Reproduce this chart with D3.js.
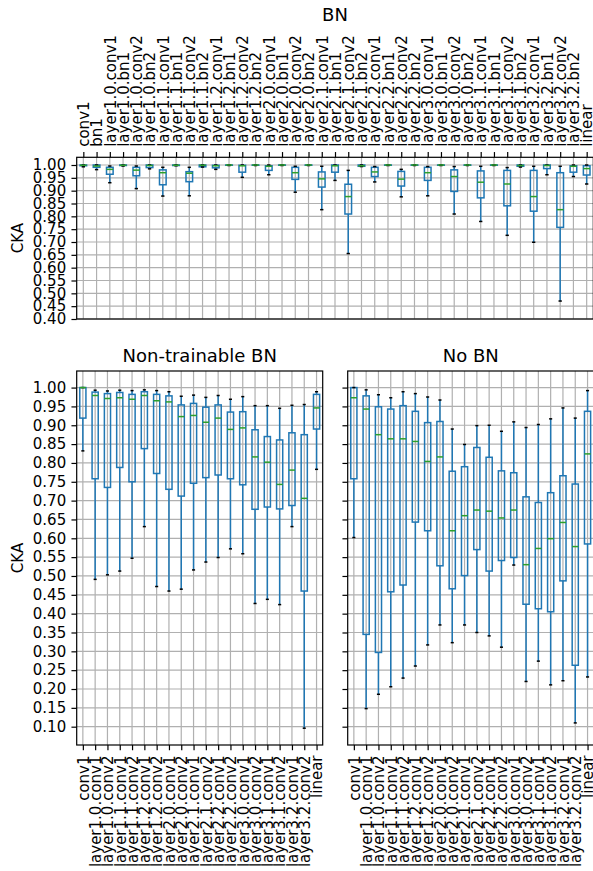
<!DOCTYPE html>
<html>
<head>
<meta charset="utf-8">
<script src="https://cdn.jsdelivr.net/npm/d3@7"></script>
<style>
  body { margin: 0; background: #fff; }
  svg text { font-family: "DejaVu Sans", sans-serif; fill: #000; }
</style>
</head>
<body>
<svg id="chart" width="593" height="871"></svg>
<script>
"use strict";
// layer names
const blocks = ['layer1.0', 'layer1.1', 'layer1.2', 'layer2.0', 'layer2.1', 'layer2.2', 'layer3.0', 'layer3.1', 'layer3.2'];
const bnLayers = ['conv1', 'bn1',
  'layer1.0.conv1', 'layer1.0.bn1', 'layer1.0.conv2', 'layer1.0.bn2',
  'layer1.1.conv1', 'layer1.1.bn1', 'layer1.1.conv2', 'layer1.1.bn2',
  'layer1.2.conv1', 'layer1.2.bn1', 'layer1.2.conv2', 'layer1.2.bn2',
  'layer2.0.conv1', 'layer2.0.bn1', 'layer2.0.conv2', 'layer2.0.bn2',
  'layer2.1.conv1', 'layer2.1.bn1', 'layer2.1.conv2', 'layer2.1.bn2',
  'layer2.2.conv1', 'layer2.2.bn1', 'layer2.2.conv2', 'layer2.2.bn2',
  'layer3.0.conv1', 'layer3.0.bn1', 'layer3.0.conv2', 'layer3.0.bn2',
  'layer3.1.conv1', 'layer3.1.bn1', 'layer3.1.conv2', 'layer3.1.bn2',
  'layer3.2.conv1', 'layer3.2.bn1', 'layer3.2.conv2', 'layer3.2.bn2', 'linear'];
const convLayers = ['conv1',
  'layer1.0.conv1', 'layer1.0.conv2', 'layer1.1.conv1', 'layer1.1.conv2', 'layer1.2.conv1', 'layer1.2.conv2',
  'layer2.0.conv1', 'layer2.0.conv2', 'layer2.1.conv1', 'layer2.1.conv2', 'layer2.2.conv1', 'layer2.2.conv2',
  'layer3.0.conv1', 'layer3.0.conv2', 'layer3.1.conv1', 'layer3.1.conv2', 'layer3.2.conv1', 'layer3.2.conv2', 'linear'];

// BN panel
const bnMin = [0.993, 0.982, 0.931, 0.996, 0.908, 0.985, 0.879, 0.997, 0.880, 0.992, 0.983, 0.998, 0.952, 0.998, 0.962, 0.998, 0.894, 0.998, 0.826, 0.940,
  0.655, 0.994, 0.934, 0.998, 0.876, 0.998, 0.880, 0.998, 0.809, 0.998, 0.780, 0.998, 0.726, 0.992, 0.699, 0.962, 0.470, 0.955, 0.926];
const bnQ1 = [0.997, 0.991, 0.964, 0.998, 0.958, 0.990, 0.923, 0.998, 0.935, 0.993, 0.989, 0.999, 0.972, 0.999, 0.979, 0.999, 0.944, 0.999, 0.914, 0.972,
  0.809, 0.995, 0.955, 0.999, 0.918, 0.999, 0.940, 0.999, 0.897, 0.999, 0.872, 0.999, 0.841, 0.995, 0.820, 0.986, 0.757, 0.972, 0.961];
const bnMed = [0.999, 0.996, 0.983, 0.999, 0.980, 0.998, 0.970, 0.999, 0.968, 0.999, 0.997, 1.000, 0.997, 1.000, 0.995, 1.000, 0.970, 1.000, 0.946, 0.997,
  0.877, 0.997, 0.973, 1.000, 0.945, 1.000, 0.970, 1.000, 0.955, 1.000, 0.933, 1.000, 0.926, 0.998, 0.877, 0.998, 0.826, 0.995, 0.986];
const bnQ3 = [1.000, 1.000, 0.991, 1.000, 0.991, 1.000, 0.981, 1.000, 0.974, 1.000, 0.999, 1.000, 0.999, 1.000, 0.997, 1.000, 0.991, 1.000, 0.973, 1.000,
  0.925, 1.000, 0.991, 1.000, 0.975, 1.000, 0.991, 1.000, 0.981, 1.000, 0.977, 1.000, 0.979, 1.000, 0.979, 1.000, 0.970, 0.997, 0.997];
const bnMax = [1.000, 1.000, 0.996, 1.000, 0.996, 1.000, 0.991, 1.000, 0.991, 1.000, 1.000, 1.000, 1.000, 1.000, 1.000, 1.000, 0.995, 1.000, 0.995, 1.000,
  0.979, 1.000, 0.994, 1.000, 0.983, 1.000, 0.994, 1.000, 0.994, 1.000, 0.995, 1.000, 0.990, 1.000, 0.995, 1.000, 0.995, 1.000, 1.000];

// Non-trainable BN panel
const ntMin = [0.832, 0.491, 0.503, 0.513, 0.547, 0.631, 0.472, 0.460, 0.465, 0.516, 0.537, 0.549, 0.572, 0.559, 0.427, 0.438, 0.424, 0.631, 0.096, 0.783];
const ntQ1 = [0.919, 0.758, 0.735, 0.788, 0.750, 0.838, 0.772, 0.730, 0.712, 0.746, 0.761, 0.768, 0.758, 0.742, 0.677, 0.683, 0.678, 0.687, 0.460, 0.890];
const ntMed = [1.000, 0.979, 0.971, 0.973, 0.969, 0.979, 0.965, 0.962, 0.923, 0.926, 0.908, 0.919, 0.889, 0.893, 0.816, 0.802, 0.743, 0.781, 0.706, 0.946];
const ntQ3 = [1.000, 0.988, 0.984, 0.987, 0.982, 0.989, 0.982, 0.978, 0.954, 0.958, 0.948, 0.954, 0.935, 0.936, 0.888, 0.870, 0.861, 0.880, 0.875, 0.982];
const ntMax = [1.000, 0.993, 0.991, 0.993, 0.992, 0.994, 0.992, 0.989, 0.977, 0.980, 0.974, 0.979, 0.969, 0.976, 0.952, 0.952, 0.945, 0.953, 0.955, 0.989];

// No BN panel
const noMin = [0.602, 0.148, 0.186, 0.206, 0.229, 0.261, 0.317, 0.370, 0.323, 0.370, 0.350, 0.341, 0.311, 0.529, 0.220, 0.274, 0.211, 0.222, 0.110, 0.232];
const noQ1 = [0.758, 0.345, 0.297, 0.458, 0.476, 0.643, 0.620, 0.527, 0.466, 0.501, 0.570, 0.513, 0.541, 0.549, 0.425, 0.413, 0.405, 0.487, 0.263, 0.585];
const noMed = [0.973, 0.943, 0.875, 0.864, 0.864, 0.857, 0.804, 0.816, 0.620, 0.660, 0.675, 0.672, 0.654, 0.675, 0.530, 0.573, 0.599, 0.642, 0.578, 0.824];
const noQ3 = [1.000, 0.978, 0.949, 0.943, 0.952, 0.937, 0.907, 0.910, 0.778, 0.790, 0.841, 0.815, 0.779, 0.774, 0.710, 0.695, 0.721, 0.766, 0.744, 0.937];
const noMax = [1.000, 0.994, 0.981, 0.973, 0.989, 0.984, 0.975, 0.967, 0.890, 0.849, 0.899, 0.900, 0.884, 0.909, 0.894, 0.902, 0.917, 0.946, 0.919, 0.992];

const topTicks = d3.range(0.40, 1.001, 0.05);
const bottomTicks = d3.range(0.10, 1.001, 0.05);

const svg = d3.select('#chart');
const FS = 15;

function panel(opts) {
  const { names, mins, q1s, meds, q3s, maxs, x0, x1, y0, y1, domain, ticks, labelSide, showYLabels, title } = opts;
  const g = svg.append('g');
  const x = d3.scalePoint().domain(names).range([x0, x1]).padding(0.5);
  const y = d3.scaleLinear().domain(domain).range([y1, y0]);
  const step = x.step();

  // grid
  g.append('g').selectAll('line.gx').data(names).enter().append('line')
    .attr('x1', d => x(d)).attr('x2', d => x(d)).attr('y1', y0).attr('y2', y1)
    .attr('stroke', '#b0b0b0').attr('stroke-width', 1.2);
  g.append('g').selectAll('line.gy').data(ticks).enter().append('line')
    .attr('x1', x0).attr('x2', x1).attr('y1', d => y(d)).attr('y2', d => y(d))
    .attr('stroke', '#b0b0b0').attr('stroke-width', 1.2);

  // boxes
  const rows = names.map((n, i) => ({ n, min: mins[i], q1: q1s[i], med: meds[i], q3: q3s[i], max: maxs[i] }));
  const bw = step * 0.5, cw = step * 0.25;
  const b = g.append('g').selectAll('g').data(rows).enter().append('g');
  b.append('line').attr('x1', d => x(d.n)).attr('x2', d => x(d.n))
    .attr('y1', d => y(d.min)).attr('y2', d => y(d.q1))
    .attr('stroke', '#1f77b4').attr('stroke-width', 1.5);
  b.append('line').attr('x1', d => x(d.n)).attr('x2', d => x(d.n))
    .attr('y1', d => y(d.q3)).attr('y2', d => y(d.max))
    .attr('stroke', '#1f77b4').attr('stroke-width', 1.5);
  b.append('rect').attr('x', d => x(d.n) - bw / 2).attr('width', bw)
    .attr('y', d => y(d.q3)).attr('height', d => y(d.q1) - y(d.q3))
    .attr('fill', 'none').attr('stroke', '#1f77b4').attr('stroke-width', 1.5);
  b.append('line').attr('x1', d => x(d.n) - cw / 2).attr('x2', d => x(d.n) + cw / 2)
    .attr('y1', d => y(d.min)).attr('y2', d => y(d.min))
    .attr('stroke', '#000').attr('stroke-width', 1.5);
  b.append('line').attr('x1', d => x(d.n) - cw / 2).attr('x2', d => x(d.n) + cw / 2)
    .attr('y1', d => y(d.max)).attr('y2', d => y(d.max))
    .attr('stroke', '#000').attr('stroke-width', 1.5);
  b.append('line').attr('x1', d => x(d.n) - bw / 2).attr('x2', d => x(d.n) + bw / 2)
    .attr('y1', d => y(d.med)).attr('y2', d => y(d.med))
    .attr('stroke', '#2ca02c').attr('stroke-width', 1.5);

  // axes
  const ya = d3.axisLeft(y).tickValues(ticks).tickSize(5.25).tickPadding(5.25)
    .tickFormat(showYLabels ? d3.format('.2f') : () => '');
  const yg = g.append('g').attr('transform', `translate(${x0},0)`).call(ya);
  yg.select('.domain').remove();
  yg.selectAll('line').attr('stroke', '#000').attr('stroke-width', 1.2);
  yg.selectAll('text').attr('font-size', FS).attr('font-family', 'DejaVu Sans');

  if (labelSide === 'top') {
    const xa = d3.axisTop(x).tickSize(5.25);
    const xg = g.append('g').attr('transform', `translate(0,${y0})`).call(xa);
    xg.select('.domain').remove();
    xg.selectAll('line').attr('stroke', '#000').attr('stroke-width', 1.2);
    xg.selectAll('text').attr('font-size', FS).attr('font-family', 'DejaVu Sans')
      .attr('transform', 'rotate(-90)').attr('x', 10.5).attr('y', 0).attr('dy', '0.35em')
      .attr('text-anchor', 'start');
  } else {
    const xa = d3.axisBottom(x).tickSize(5.25);
    const xg = g.append('g').attr('transform', `translate(0,${y1})`).call(xa);
    xg.select('.domain').remove();
    xg.selectAll('line').attr('stroke', '#000').attr('stroke-width', 1.2);
    xg.selectAll('text').attr('font-size', FS).attr('font-family', 'DejaVu Sans')
      .attr('transform', 'rotate(-90)').attr('x', -10.5).attr('y', 0).attr('dy', '0.35em')
      .attr('text-anchor', 'end');
  }

  // frame
  g.append('rect').attr('x', x0).attr('y', y0).attr('width', x1 - x0).attr('height', y1 - y0)
    .attr('fill', 'none').attr('stroke', '#000').attr('stroke-width', 1.2);

  if (showYLabels) {
    g.append('text').attr('transform', `translate(18,${(y0 + y1) / 2}) rotate(-90)`)
      .attr('text-anchor', 'middle').attr('dy', '0.35em').attr('font-size', FS).text('CKA');
  }
  return { x, y };
}

panel({ names: bnLayers, mins: bnMin, q1s: bnQ1, meds: bnMed, q3s: bnQ3, maxs: bnMax,
  x0: 76.7, x1: 593.3, y0: 157.3, y1: 319, domain: [0.40, 1.030], ticks: topTicks,
  labelSide: 'top', showYLabels: true });
panel({ names: convLayers, mins: ntMin, q1s: ntQ1, meds: ntMed, q3s: ntQ3, maxs: ntMax,
  x0: 76.7, x1: 322.7, y0: 371, y1: 745, domain: [0.0514, 1.044], ticks: bottomTicks,
  labelSide: 'bottom', showYLabels: true });
panel({ names: convLayers, mins: noMin, q1s: noQ1, meds: noMed, q3s: noQ3, maxs: noMax,
  x0: 347.7, x1: 593.7, y0: 371, y1: 745, domain: [0.0514, 1.044], ticks: bottomTicks,
  labelSide: 'bottom', showYLabels: false });

// titles
svg.append('text').attr('x', 335).attr('y', 21).attr('text-anchor', 'middle').attr('font-size', 18).text('BN');
svg.append('text').attr('x', 199.7).attr('y', 362).attr('text-anchor', 'middle').attr('font-size', 18).text('Non-trainable BN');
svg.append('text').attr('x', 470.7).attr('y', 362).attr('text-anchor', 'middle').attr('font-size', 18).text('No BN');
</script>
</body>
</html>
